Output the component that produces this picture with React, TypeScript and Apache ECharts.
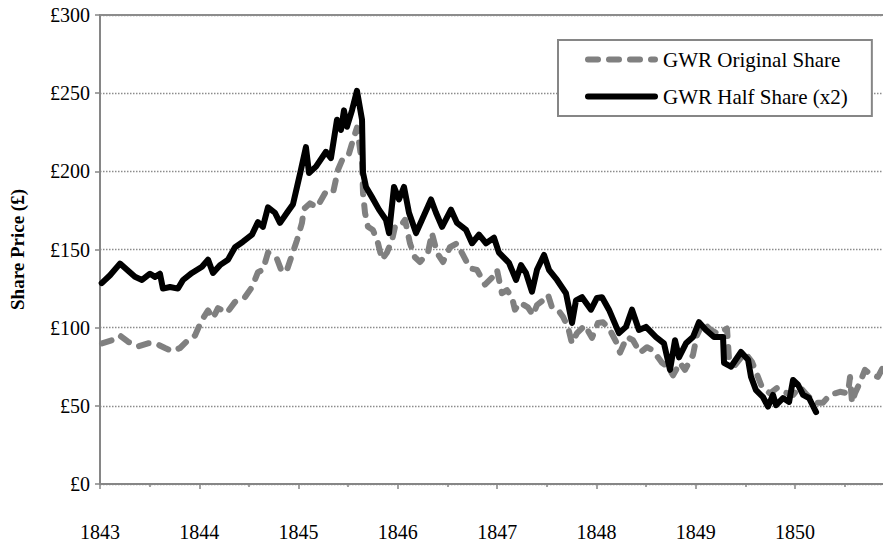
import React, { useEffect, useRef } from "react";
import * as echarts from "echarts";

// GWR Original Share (£)
const origYears = [
  1843.02, 1843.121, 1843.201, 1843.282, 1843.383, 1843.483, 1843.574, 1843.655, 1843.725, 1843.806,
  1843.886, 1843.957, 1844.027, 1844.088, 1844.138, 1844.188, 1844.279, 1844.36, 1844.46, 1844.531,
  1844.591, 1844.641, 1844.692, 1844.782, 1844.833, 1844.883, 1844.934, 1844.984, 1845.034, 1845.054,
  1845.115, 1845.185, 1845.266, 1845.346, 1845.397, 1845.437, 1845.497, 1845.548, 1845.588, 1845.639,
  1845.649, 1845.669, 1845.699, 1845.749, 1845.8, 1845.84, 1845.89, 1845.941, 1845.971, 1846.021,
  1846.072, 1846.122, 1846.172, 1846.223, 1846.303, 1846.343, 1846.394, 1846.454, 1846.525, 1846.595,
  1846.656, 1846.726, 1846.797, 1846.877, 1846.948, 1846.998, 1847.048, 1847.099, 1847.149, 1847.179,
  1847.23, 1847.31, 1847.361, 1847.401, 1847.461, 1847.512, 1847.552, 1847.612, 1847.663, 1847.713,
  1847.753, 1847.804, 1847.884, 1847.955, 1848.015, 1848.066, 1848.136, 1848.206, 1848.237, 1848.307,
  1848.368, 1848.438, 1848.509, 1848.569, 1848.66, 1848.721, 1848.771, 1848.841, 1848.892, 1848.972,
  1849.012, 1849.073, 1849.143, 1849.224, 1849.315, 1849.335, 1849.395, 1849.496, 1849.567, 1849.617,
  1849.667, 1849.747, 1849.819, 1849.879, 1849.98, 1850.05, 1850.12, 1850.201, 1850.281, 1850.352,
  1850.453, 1850.533, 1850.554, 1850.574, 1850.604, 1850.654, 1850.704, 1850.775, 1850.835, 1850.885,
];
const origPrices = [
  90, 92, 95, 91, 88, 90, 89.5, 87, 85, 87,
  92, 95, 105, 111, 106, 112.5, 109.5, 116.5, 119.5, 126,
  135.5, 137, 148, 144, 135.5, 137, 146.5, 156, 167, 176,
  179.5, 177, 186, 186, 201, 207, 209, 220, 228, 205,
  186, 173.5, 164.5, 162.5, 154, 143.5, 148, 156, 164.5, 164.5,
  169, 154, 145, 142, 148, 160.5, 148, 142, 151.5, 154,
  146.5, 138, 137, 127.5, 132, 137, 122, 124, 119.5, 111.5,
  116, 113, 108, 114.5, 117.5, 121, 113, 111.5, 107, 100.5,
  90, 96.5, 101.5, 93.5, 103, 103.5, 98.5, 90, 84, 94,
  92, 84, 87.5, 85.5, 77.5, 75, 69.5, 77.5, 73, 82.5,
  95, 103.5, 99, 96, 99.5, 80, 76, 84, 78, 70,
  62, 58, 61.5, 59, 57, 62, 57, 52, 52, 57,
  59, 58, 68.5, 52, 58, 65, 73, 69.5, 68.5, 74.5,
];

// GWR Half Share (x2) (£)
const halfYears = [
  1843.017, 1843.101, 1843.201, 1843.272, 1843.352, 1843.423, 1843.504, 1843.554, 1843.604, 1843.634,
  1843.705, 1843.785, 1843.836, 1843.926, 1844.027, 1844.088, 1844.138, 1844.208, 1844.289, 1844.36,
  1844.44, 1844.531, 1844.591, 1844.641, 1844.692, 1844.762, 1844.813, 1844.883, 1844.944, 1844.984,
  1845.024, 1845.074, 1845.105, 1845.175, 1845.276, 1845.326, 1845.387, 1845.427, 1845.457, 1845.487,
  1845.538, 1845.588, 1845.639, 1845.649, 1845.679, 1845.739, 1845.81, 1845.88, 1845.911, 1845.961,
  1846.011, 1846.062, 1846.112, 1846.183, 1846.243, 1846.334, 1846.384, 1846.445, 1846.535, 1846.596,
  1846.687, 1846.747, 1846.817, 1846.888, 1846.968, 1847.018, 1847.119, 1847.19, 1847.24, 1847.29,
  1847.351, 1847.401, 1847.472, 1847.522, 1847.603, 1847.693, 1847.754, 1847.794, 1847.855, 1847.945,
  1848.005, 1848.056, 1848.126, 1848.227, 1848.297, 1848.358, 1848.428, 1848.499, 1848.6, 1848.68,
  1848.741, 1848.791, 1848.831, 1848.902, 1848.972, 1849.033, 1849.103, 1849.184, 1849.275, 1849.285,
  1849.355, 1849.456, 1849.527, 1849.557, 1849.607, 1849.678, 1849.728, 1849.778, 1849.809, 1849.879,
  1849.94, 1849.98, 1850.03, 1850.081, 1850.141, 1850.212,
];
const halfPrices = [
  128.5, 133.5, 141, 137, 132.5, 130.5, 134.5, 132.5, 134.5, 125,
  126, 125, 130.5, 135, 139, 143.5, 135, 140, 143.5, 151.5,
  155, 159.5, 167.5, 164.5, 177, 173.5, 167, 173.5, 179, 190,
  201, 215.5, 199, 203, 212.5, 208.5, 233, 226.5, 239, 228.5,
  239, 251.5, 233, 199, 190, 183.5, 175.5, 169, 160.5, 190,
  182, 190, 173.5, 160.5, 169, 182, 173.5, 164.5, 175.5, 167,
  162.5, 154, 159.5, 154, 157.5, 148, 141.5, 130.5, 140, 135,
  123, 137, 146.5, 137, 130.5, 122, 103, 117.5, 119.5, 111.5,
  119, 119.5, 111.5, 96.5, 100.5, 111.5, 98.5, 100.5, 94, 90,
  73, 92, 81, 90, 94, 103.5, 98.5, 94, 94, 77.5,
  75, 84.5, 79.5, 68.5, 60, 55.5, 49.5, 57, 50.5, 55,
  52.5, 66.5, 63.5, 57, 55, 46,
];

const yearTicks = [1843, 1844, 1845, 1846, 1847, 1848, 1849, 1850];
const halfYearTicks = [1843.5, 1844.5, 1845.5, 1846.5, 1847.5, 1848.5, 1849.5, 1850.5];
const seriesNames = ["GWR Original Share", "GWR Half Share (x2)"];

const FONT = "'Liberation Serif', 'Times New Roman', Times, serif";
const AXIS_GRAY = "#868686";

export default function App() {
  const ref = useRef<HTMLDivElement>(null);
  useEffect(() => {
    if (!ref.current) return;
    const chart = echarts.init(ref.current, null, { renderer: "svg" });
    const xMin = 1843;
    const xMax = 1850.886;
    chart.setOption({
      animation: false,
      backgroundColor: "#fff",
      grid: { left: 100, right: 0, top: 15, bottom: 58, containLabel: false },
      legend: {
        orient: "vertical",
        left: 558,
        top: 40,
        padding: [9, 24, 9, 27],
        itemWidth: 67,
        itemHeight: 14,
        itemGap: 16,
        borderColor: AXIS_GRAY,
        borderWidth: 2,
        backgroundColor: "#fff",
        itemStyle: { opacity: 0 },
        lineStyle: { width: 6 },
        textStyle: { fontFamily: FONT, fontSize: 21, color: "#000", padding: [0, 0, 0, 3] },
        data: seriesNames,
      },
      xAxis: [
        {
          type: "value",
          min: xMin,
          max: xMax,
          interval: 1,
          position: "bottom",
          axisLine: { show: true, lineStyle: { color: AXIS_GRAY, width: 2 } },
          axisTick: { show: true, length: 5, customValues: yearTicks, lineStyle: { color: AXIS_GRAY, width: 1.5 } },
          axisLabel: {
            customValues: yearTicks,
            margin: 38,
            fontFamily: FONT,
            fontSize: 20,
            color: "#000",
            formatter: (v: number) => String(Math.round(v)),
          },
          splitLine: { show: false },
        },
        {
          type: "value",
          min: xMin,
          max: xMax,
          position: "bottom",
          axisLine: { show: false },
          axisTick: { show: true, length: 3, customValues: halfYearTicks, lineStyle: { color: AXIS_GRAY, width: 1.5 } },
          axisLabel: { show: false },
          splitLine: { show: false },
        },
        {
          type: "value",
          min: xMin,
          max: xMax,
          position: "top",
          axisLine: { show: true, lineStyle: { color: "#8c8c8c", width: 2 } },
          axisTick: { show: false },
          axisLabel: { show: false },
          splitLine: { show: false },
        },
      ],
      yAxis: {
        type: "value",
        min: 0,
        max: 300,
        interval: 50,
        name: "Share Price (£)",
        nameLocation: "middle",
        nameGap: 73,
        nameTextStyle: { fontFamily: FONT, fontSize: 19, fontWeight: "bold", color: "#000" },
        axisLine: { show: true, lineStyle: { color: AXIS_GRAY, width: 2 } },
        axisTick: { show: true, length: 5, lineStyle: { color: AXIS_GRAY, width: 1.5 } },
        axisLabel: {
          margin: 10,
          fontFamily: FONT,
          fontSize: 20,
          color: "#000",
          formatter: (v: number) => "£" + v,
        },
        splitLine: { show: true, lineStyle: { color: "#8c8c8c", width: 1.3, type: [1.5, 1.5] } },
      },
      series: [
        {
          name: seriesNames[0],
          type: "line",
          xAxisIndex: 0,
          symbol: "none",
          showSymbol: false,
          data: origYears.map((y, i) => [y, origPrices[i]]),
          lineStyle: { color: "#808080", width: 6, type: [10, 11], cap: "round", join: "round" },
          itemStyle: { color: "#808080" },
          z: 2,
        },
        {
          name: seriesNames[1],
          type: "line",
          xAxisIndex: 0,
          symbol: "none",
          showSymbol: false,
          data: halfYears.map((y, i) => [y, halfPrices[i]]),
          lineStyle: { color: "#000", width: 6, cap: "round", join: "round" },
          itemStyle: { color: "#000" },
          z: 3,
        },
      ],
    });
    return () => chart.dispose();
  }, []);
  return (
    <div
      ref={ref}
      style={{ position: "fixed", left: 0, top: 0, width: 883, height: 542, background: "#fff" }}
    />
  );
}
